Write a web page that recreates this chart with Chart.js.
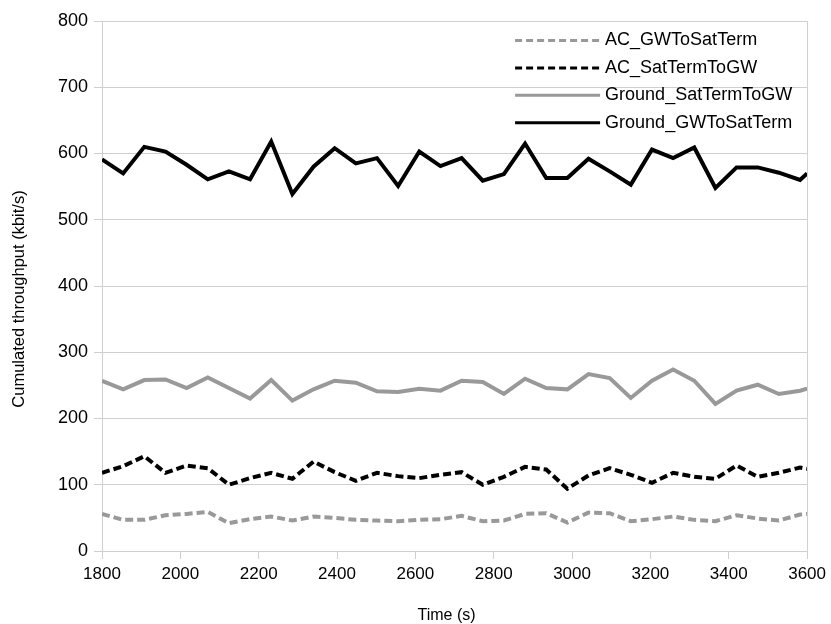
<!DOCTYPE html>
<html><head><meta charset="utf-8">
<script src="https://cdn.jsdelivr.net/npm/chart.js@4.4.1/dist/chart.umd.min.js"></script>
<style>html,body{margin:0;padding:0;background:#fff}#wrap{width:831px;height:624px}</style>
</head><body>
<div id="wrap"><canvas id="c" width="831" height="624"></canvas></div>
<script>
// Time (s)
const times = [1800,1854,1908,1962,2016,2070,2124,2178,2232,2286,2340,2394,2448,2502,2556,2610,2664,2718,2772,2826,2880,2934,2988,3042,3096,3150,3204,3258,3312,3366,3420,3474,3528,3582,3600];
// Cumulated throughput (kbit/s)
const acGWToSatTerm = [56,47,47,54,56,59,42,48,52,46,52,50,47,46,45,47,48,53,45,46,56,57,43,58,57,45,48,52,47,45,54,49,46,55,56];
const acSatTermToGW = [118,128,143,118,129,125,100,110,118,109,135,119,106,118,113,110,115,119,100,112,127,123,94,114,125,115,103,118,112,109,129,112,118,126,124];
const groundSatTermToGW = [257,244,258,259,246,262,246,230,258,227,244,257,254,241,240,245,242,257,255,237,260,246,244,267,261,231,257,274,257,222,242,251,237,242,245];
const groundGWToSatTerm = [591,570,610,603,583,561,573,561,618,539,580,608,585,593,551,603,581,593,559,569,615,563,563,592,573,553,606,593,609,548,579,579,571,560,570];
const seriesLabels = ['AC_GWToSatTerm','AC_SatTermToGW','Ground_SatTermToGW','Ground_GWToSatTerm'];
const xTicks = [1800,2000,2200,2400,2600,2800,3000,3200,3400,3600];
const yTicks = [0,100,200,300,400,500,600,700,800];
const xTitle = 'Time (s)';
const yTitle = 'Cumulated throughput (kbit/s)';

const FONT = '"Liberation Sans", Arial, Helvetica, sans-serif';
const GRID = '#cfcfcf';
const toPoints = arr => arr.map((v, i) => ({x: times[i], y: v}));

const decorPlugin = {
  id: 'decor',
  beforeDatasetsDraw(chart) {
    const {ctx, chartArea: a} = chart;
    ctx.save();
    ctx.strokeStyle = GRID; ctx.lineWidth = 1;
    ctx.beginPath(); ctx.moveTo(a.right + 0.5, a.top); ctx.lineTo(a.right + 0.5, a.bottom); ctx.stroke();
    ctx.restore();
  },
  afterDraw(chart) {
    const {ctx, chartArea: a} = chart;
    ctx.save();
    // axis titles
    ctx.fillStyle = '#000';
    ctx.textBaseline = 'middle';
    ctx.textAlign = 'center';
    ctx.font = '16px ' + FONT;
    ctx.fillText(xTitle, (a.left + a.right) / 2 - 8, chart.height - 8);
    ctx.save();
    ctx.translate(19, (a.top + a.bottom) / 2 + 13);
    ctx.rotate(-Math.PI / 2);
    ctx.font = '16.5px ' + FONT;
    ctx.fillText(yTitle, 0, 0);
    ctx.restore();
    // legend
    chart.data.datasets.forEach((ds, i) => {
      const y = a.top + 19.5 + i * 27.4;
      const x0 = a.right - 292, x1 = a.right - 207;
      ctx.strokeStyle = ds.borderColor;
      ctx.lineWidth = 3;
      ctx.setLineDash(ds.borderDash && ds.borderDash.length ? [7, 4] : []);
      ctx.beginPath(); ctx.moveTo(x0, y); ctx.lineTo(x1, y); ctx.stroke();
      ctx.setLineDash([]);
      ctx.fillStyle = '#000';
      ctx.font = '18px ' + FONT;
      ctx.textBaseline = 'middle';
      ctx.textAlign = 'left';
      ctx.fillText(ds.label, x1 + 5, y);
    });
    ctx.restore();
  }
};

new Chart(document.getElementById('c'), {
  type: 'line',
  data: {
    datasets: [
      {label: seriesLabels[0], data: toPoints(acGWToSatTerm), borderColor: '#999999', borderWidth: 4, borderDash: [8, 4]},
      {label: seriesLabels[1], data: toPoints(acSatTermToGW), borderColor: '#000000', borderWidth: 4, borderDash: [8, 4]},
      {label: seriesLabels[2], data: toPoints(groundSatTermToGW), borderColor: '#999999', borderWidth: 4},
      {label: seriesLabels[3], data: toPoints(groundGWToSatTerm), borderColor: '#000000', borderWidth: 4}
    ]
  },
  options: {
    responsive: false,
    animation: false,
    devicePixelRatio: 1,
    elements: {point: {radius: 0}, line: {tension: 0, fill: false}},
    layout: {padding: {left: 0, right: 22, top: 21, bottom: 0}},
    plugins: {legend: {display: false}, tooltip: {enabled: false}},
    scales: {
      x: {
        type: 'linear', min: 1800, max: 3600,
        afterBuildTicks: s => { s.ticks = xTicks.map(v => ({value: v})); },
        afterFit: s => { s.height = 73; },
        ticks: {callback: v => String(v), color: '#000', font: {family: FONT, size: 17}, padding: 5, maxRotation: 0, autoSkip: false},
        grid: {drawOnChartArea: false, drawTicks: true, tickLength: 8, color: GRID},
        border: {display: true, color: GRID},
        title: {display: false}
      },
      y: {
        min: 0, max: 800,
        afterBuildTicks: s => { s.ticks = yTicks.map(v => ({value: v})); },
        afterFit: s => { s.width = 102; },
        ticks: {callback: v => String(v), color: '#000', font: {family: FONT, size: 18}, padding: 6},
        grid: {drawOnChartArea: true, drawTicks: true, tickLength: 8, color: GRID},
        border: {display: true, color: GRID},
        title: {display: false}
      }
    }
  },
  plugins: [decorPlugin]
});
</script>
</body></html>
